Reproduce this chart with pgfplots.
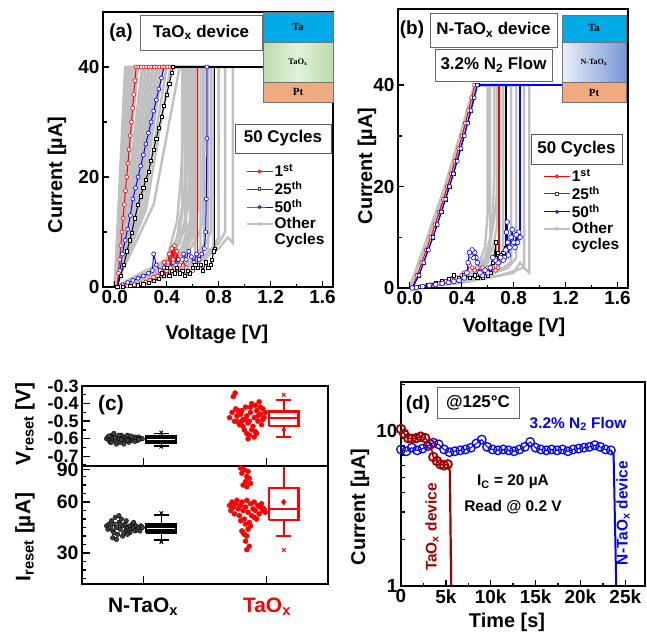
\documentclass[border=0pt]{standalone}
\usepackage{fontspec}
\setmainfont{Liberation Sans}
\newfontfamily\serifb{Liberation Serif}
\usepackage{pgfplots}
\pgfplotsset{compat=1.18}
\definecolor{cred}{RGB}{255,0,0}
\definecolor{cblue}{RGB}{0,0,255}
\definecolor{cgrey}{RGB}{192,192,192}
\definecolor{dred}{RGB}{160,0,0}
\definecolor{tablue}{RGB}{0,170,230}
\definecolor{taoxgreen}{RGB}{185,220,170}
\definecolor{ptorange}{RGB}{240,170,125}
\definecolor{ntaoxblue}{RGB}{120,150,215}
\newcommand\tickf{\fontsize{19}{21}\selectfont\bfseries}
\newcommand\labf{\fontsize{20}{22}\selectfont\bfseries}
\newcommand\boxf{\fontsize{17}{19}\selectfont\bfseries}
\newcommand\legf{\fontsize{15.5}{18}\selectfont\bfseries}
\newcommand\txtf{\fontsize{15.5}{18}\selectfont\bfseries}
\pgfplotsset{
  panel/.style={scale only axis, anchor=south west, axis on top,
    axis line style={line width=2bp}, tick align=inside, tick pos=left,
    tick style={black, line width=1.4bp}, major tick length=6bp, minor tick length=3.5bp,
    tick label style={font=\tickf}, scaled ticks=false},
  ivpanel/.style={panel, xmin=-0.09, xmax=1.68,
    xtick={0,0.4,0.8,1.2,1.6}, xticklabels={0.0,0.4,0.8,1.2,1.6},
    minor xtick={0.2,0.6,1.0,1.4},
    ytick={0,20,40}, yticklabels={0,20,40}, minor ytick={10,30},
    legend style={draw=none, fill=none, font=\legf, inner xsep=0pt, inner ysep=0pt,
      nodes={inner sep=1.2bp}, row sep=1bp, cells={anchor=west}},
    legend image code/.code={\draw[##1, mark repeat=2, mark phase=2] plot coordinates {(0bp,0bp) (13bp,0bp) (26bp,0bp)};}},
  cyc/.style={line width=1bp, mark=*, mark size=2bp, mark options={fill=white, line width=0.6bp, solid}, forget plot},
  grey/.style={cgrey, line width=2.4bp, forget plot},
  boxln/.style={line width=#1, unbounded coords=jump, forget plot},
}
\begin{document}
\begin{tikzpicture}
\path[use as bounding box] (0,0) rectangle (647bp,-633bp);

% ---------------- (a) TaOx I-V
\begin{axis}[ivpanel, at={(103bp,-287bp)}, width=230bp, height=275bp, ymin=0, ymax=50,
  legend style={at={(0.62,0.45)}, anchor=north west}]
\addplot[grey] coordinates {(0,0) (0.08,40) (0.55,40) (0.55,6) (0.5,4) (0.4,3) (0.25,1.5) (0.1,0.5) (0,0)};
\addplot[grey] coordinates {(0,0) (0.10,40) (0.58,40) (0.58,9) (0.52,6) (0.45,5) (0.3,2) (0.15,0.8) (0,0)};
\addplot[grey] coordinates {(0,0) (0.12,40) (0.60,40) (0.60,12) (0.55,8) (0.48,6) (0.35,3) (0.2,1) (0,0)};
\addplot[grey] coordinates {(0,0) (0.07,20) (0.14,40) (0.62,40) (0.62,5) (0.5,4) (0.4,2.5) (0.2,1) (0,0)};
\addplot[grey] coordinates {(0,0) (0.09,19) (0.18,40) (0.64,40) (0.64,14) (0.6,9) (0.5,5) (0.35,3) (0.2,1) (0,0)};
\addplot[grey] coordinates {(0,0) (0.10,17) (0.21,40) (0.56,40) (0.56,25) (0.54,18) (0.5,10) (0.42,5) (0.3,2) (0,0)};
\addplot[grey] coordinates {(0,0) (0.12,17) (0.24,40) (0.66,40) (0.66,7) (0.6,5) (0.5,4) (0.3,1.5) (0,0)};
\addplot[grey] coordinates {(0,0) (0.14,17) (0.27,40) (0.53,40) (0.53,30) (0.51,20) (0.48,12) (0.4,5) (0.25,2) (0,0)};
\addplot[grey] coordinates {(0,0) (0.16,16) (0.30,40) (0.69,40) (0.69,8) (0.65,6) (0.55,4) (0.35,2) (0,0)};
\addplot[grey] coordinates {(0,0) (0.18,15) (0.33,40) (0.72,40) (0.72,6) (0.6,4) (0.4,2) (0,0)};
\addplot[grey] coordinates {(0,0) (0.20,14) (0.37,40) (0.80,40) (0.80,9) (0.75,7) (0.65,5) (0.45,3) (0.25,1) (0,0)};
\addplot[grey] coordinates {(0,0) (0.22,14) (0.40,40) (0.85,40) (0.85,10) (0.8,8) (0.7,6) (0.5,3) (0,0)};
\addplot[grey] coordinates {(0,0) (0.24,14) (0.43,40) (0.91,40) (0.91,8) (0.87,9) (0.8,7) (0.6,4) (0.3,1) (0,0)};
\addplot[grey] coordinates {(0,0) (0.30,15) (0.50,40) (0.58,40) (0.58,35) (0.57,28) (0.55,20) (0.5,10) (0.4,4) (0,0)};
\addplot[grey] coordinates {(0,0) (0.16,40) (0.76,40) (0.76,7) (0.7,5) (0.5,3) (0,0)};
\addplot[grey] coordinates {(0,0) (0.09,40) (0.6,40) (0.6,10) (0.55,7) (0.45,4) (0.3,2) (0,0)};
\addplot[grey] coordinates {(0,0) (0.06,20) (0.13,40) (0.57,40) (0.57,18) (0.53,10) (0.45,6) (0.3,2.5) (0,0)};
\addplot[grey] coordinates {(0,0) (0.08,19) (0.16,40) (0.54,40) (0.54,12) (0.5,8) (0.4,4) (0,0)};
\addplot[grey] coordinates {(0,0) (0.11,18) (0.22,40) (0.61,40) (0.61,20) (0.58,12) (0.5,6) (0.35,3) (0,0)};
\addplot[grey] coordinates {(0,0) (0.13,17) (0.26,40) (0.63,40) (0.63,9) (0.55,6) (0.4,3) (0,0)};
\addplot[grey] coordinates {(0,0) (0.15,16) (0.29,40) (0.59,40) (0.59,22) (0.56,14) (0.5,8) (0.4,4) (0,0)};
\addplot[grey] coordinates {(0,0) (0.17,16) (0.32,40) (0.68,40) (0.68,12) (0.62,8) (0.5,5) (0.3,2) (0,0)};
\addplot[grey] coordinates {(0,0) (0.19,15) (0.35,40) (0.74,40) (0.74,10) (0.68,7) (0.55,4) (0,0)};
\addplot[grey] coordinates {(0,0) (0.05,12) (0.11,40) (0.52,40) (0.52,15) (0.48,9) (0.4,5) (0,0)};
% 50th cycle
\addplot[cblue, line width=2.2bp, forget plot] coordinates {(0.38,40) (1.2,40)};
\addplot[cblue, cyc] coordinates {(0.02,0) (0.04,3) (0.06,6) (0.08,8.5) (0.1,10.5) (0.12,13) (0.14,16) (0.16,18) (0.18,20) (0.2,22) (0.22,24) (0.24,26) (0.26,28) (0.28,30) (0.3,32) (0.32,34) (0.34,36) (0.36,38) (0.38,40)};
\addplot[cblue, cyc] coordinates {(0.71,40) (0.71,27) (0.705,16) (0.7,10) (0.69,7) (0.67,6) (0.65,5) (0.63,6) (0.61,4.5) (0.59,5.5) (0.57,6.5) (0.55,5) (0.53,6) (0.51,4.5) (0.49,5) (0.47,4) (0.45,4.5) (0.43,3.5) (0.41,4) (0.38,3.5) (0.35,3) (0.32,4) (0.3,6) (0.29,3) (0.26,2.5) (0.22,2) (0.18,1.6) (0.14,1.2) (0.1,0.8) (0.06,0.4) (0.02,0)};
% 1st cycle
\addplot[cred, line width=2.4bp, forget plot] coordinates {(0.165,40) (0.64,40)};
\addplot[cred, cyc] coordinates {(0.02,0) (0.029,2.5) (0.038,5) (0.047,7.5) (0.056,10) (0.065,12.5) (0.074,15) (0.083,17.5) (0.093,20) (0.102,22.5) (0.111,25) (0.120,27.5) (0.129,30) (0.138,32.5) (0.147,35) (0.156,37.5) (0.165,40) (0.185,40) (0.205,40) (0.225,40) (0.245,40) (0.265,40) (0.285,40) (0.305,40) (0.325,40) (0.345,40) (0.365,40) (0.385,40) (0.405,40) (0.425,40) (0.445,40)};
\addplot[cred, line width=1.2bp, forget plot] coordinates {(0.64,40) (0.64,4)};
\addplot[cred, cyc] coordinates {(0.64,4) (0.62,3.5) (0.6,3) (0.57,2.5) (0.55,3.5) (0.52,5) (0.5,4) (0.48,6.5) (0.47,4) (0.46,7.5) (0.45,5) (0.44,7) (0.43,3.5) (0.42,6) (0.41,4.5) (0.4,3) (0.38,4.5) (0.37,2.5) (0.35,3) (0.33,2) (0.3,1.8) (0.27,1.2) (0.24,0.9) (0.2,0.6) (0.15,0.4) (0.1,0.2) (0.05,0.1) (0.02,0)};
% 25th cycle
\addplot[black, line width=2.2bp, forget plot] coordinates {(0.45,40) (1.2,40)};
\addplot[black, line width=1.2bp, forget plot] coordinates {(0.77,40) (0.77,7)};
\addplot[black, cyc, mark=square*, mark size=1.6bp] coordinates {(0.02,0) (0.045,2) (0.07,4) (0.095,6.5) (0.115,8.5) (0.13,9.8) (0.155,12.5) (0.18,15) (0.2,16.5) (0.22,18) (0.24,19.5) (0.26,21) (0.28,23) (0.3,25) (0.32,27) (0.34,29) (0.36,31) (0.38,33) (0.4,35) (0.42,37) (0.44,39) (0.45,40)};
\addplot[black, cyc, mark=square*, mark size=1.6bp] coordinates {(0.77,7) (0.76,6.5) (0.75,5) (0.74,4) (0.72,3.5) (0.7,4.5) (0.68,3) (0.66,4) (0.64,3.5) (0.62,4) (0.6,3.5) (0.58,2.5) (0.56,3) (0.54,2) (0.52,3) (0.5,2.5) (0.48,3.5) (0.46,2.5) (0.44,3) (0.42,2) (0.4,3.5) (0.38,2) (0.36,2.5) (0.34,1.5) (0.3,1.2) (0.26,0.8) (0.22,0.5) (0.18,0.3) (0.12,0.2) (0.06,0.1) (0.02,0)};
\addlegendimage{cred, line width=1bp, mark=*, mark size=1.4bp, mark options={fill=white}}
\addlegendentry{1\textsuperscript{st}}
\addlegendimage{black!75, line width=1bp, mark=square*, mark size=1.3bp, mark options={fill=white}}
\addlegendentry{25\textsuperscript{th}}
\addlegendimage{cblue, line width=1bp, mark=*, mark size=1.4bp, mark options={fill=white}}
\addlegendentry{50\textsuperscript{th}}
\addlegendimage{cgrey, line width=1.6bp, mark=x, mark size=2bp}
\addlegendentry{Other}
\addlegendimage{empty legend}
\addlegendentry{Cycles}
\end{axis}

% ---------------- (b) N-TaOx I-V
\begin{axis}[ivpanel, at={(398bp,-288bp)}, width=230bp, height=279bp, ymin=0, ymax=55,
  legend style={at={(0.63,0.43)}, anchor=north west}]
\addplot[grey] coordinates {(0,0) (0.27,20) (0.5,40) (0.62,40) (0.62,6) (0.55,4) (0.45,2) (0.3,1) (0,0)};
\addplot[grey] coordinates {(0,0) (0.28,20) (0.51,40) (0.65,40) (0.65,22) (0.64,15) (0.62,10) (0.58,6) (0.5,3) (0.3,1) (0,0)};
\addplot[grey] coordinates {(0,0) (0.29,20) (0.5,40) (0.67,40) (0.67,12) (0.64,8) (0.6,5) (0.5,2.5) (0,0)};
\addplot[grey] coordinates {(0,0) (0.3,20) (0.52,40) (0.72,40) (0.72,7) (0.68,5) (0.6,4) (0.45,2) (0,0)};
\addplot[grey] coordinates {(0,0) (0.3,20) (0.52,40) (0.78,40) (0.78,5) (0.72,4) (0.6,3) (0.4,1.5) (0,0)};
\addplot[grey] coordinates {(0,0) (0.29,20) (0.51,40) (0.82,40) (0.82,6) (0.76,4) (0.6,2.5) (0,0)};
\addplot[grey] coordinates {(0,0) (0.3,20) (0.52,40) (0.88,40) (0.88,4) (0.85,5) (0.8,3) (0.6,2) (0.35,1) (0,0)};
\addplot[grey] coordinates {(0,0) (0.28,20) (0.5,40) (0.92,40) (0.92,3) (0.88,4) (0.7,2.5) (0.4,1) (0,0)};
\addplot[grey] coordinates {(0,0) (0.29,20) (0.51,40) (0.6,40) (0.6,15) (0.58,8) (0.52,4) (0.4,2) (0,0)};
\addplot[grey] coordinates {(0,0) (0.29,20) (0.5,40) (0.69,40) (0.69,25) (0.67,18) (0.64,12) (0.6,6) (0.5,2) (0,0)};
% 1st
\addplot[cred, line width=2bp, forget plot] coordinates {(0.5,40) (0.69,40) (0.69,5)};
\addplot[cred, cyc] coordinates {(0.02,0) (0.057,2.5) (0.093,5) (0.128,7.5) (0.163,10) (0.196,12.5) (0.228,15) (0.26,17.5) (0.29,20) (0.32,22.5) (0.348,25) (0.376,27.5) (0.403,30) (0.428,32.5) (0.453,35) (0.477,37.5) (0.5,40)};
\addplot[cred, cyc] coordinates {(0.69,5) (0.68,4) (0.66,3.5) (0.64,4) (0.62,3) (0.6,4) (0.58,3.5) (0.56,4) (0.54,3) (0.52,4) (0.5,3.5) (0.48,4) (0.46,4.5) (0.44,3) (0.42,3) (0.4,2.5) (0.36,2) (0.32,1.6) (0.28,1.3) (0.22,0.9) (0.16,0.6) (0.1,0.3) (0.04,0.1) (0.02,0)};
% 25th
\addplot[black, line width=1.6bp, forget plot] coordinates {(0.52,40) (0.74,40) (0.74,8)};
\addplot[black, cyc, mark=square*, mark size=1.6bp] coordinates {(0.02,0) (0.07,2.5) (0.106,5) (0.142,7.5) (0.178,10) (0.211,12.5) (0.243,15) (0.275,17.5) (0.305,20) (0.335,22.5) (0.364,25) (0.392,27.5) (0.419,30) (0.445,32.5) (0.47,35) (0.495,37.5) (0.52,40)};
\addplot[black, cyc, mark=square*, mark size=1.6bp] coordinates {(0.74,8) (0.72,7) (0.7,6.5) (0.68,7) (0.66,6) (0.665,9) (0.64,5) (0.62,3) (0.6,2.5) (0.58,3) (0.56,2) (0.54,2.5) (0.52,2) (0.5,2.5) (0.46,2) (0.42,2.5) (0.38,2) (0.34,2.5) (0.3,1.8) (0.25,1.4) (0.2,1) (0.14,0.6) (0.08,0.3) (0.02,0)};
% 50th
\addplot[cblue, line width=2.6bp, forget plot] coordinates {(0.52,40) (1.2,40)};
\addplot[cblue, line width=1.4bp, forget plot] coordinates {(0.85,40) (0.85,10)};
\addplot[cblue, cyc] coordinates {(0.02,0) (0.072,2.5) (0.108,5) (0.144,7.5) (0.18,10) (0.213,12.5) (0.245,15) (0.277,17.5) (0.307,20) (0.337,22.5) (0.366,25) (0.394,27.5) (0.421,30) (0.447,32.5) (0.472,35) (0.497,37.5) (0.52,40)};
\addplot[cblue, cyc, mark size=2.4bp] coordinates {(0.85,10) (0.84,11) (0.83,9) (0.82,10.5) (0.81,8) (0.8,9) (0.79,11.5) (0.78,10) (0.77,8) (0.76,6.5) (0.755,9) (0.75,13) (0.745,11) (0.74,7.5) (0.73,6) (0.72,5.5) (0.7,6) (0.68,5) (0.66,5.5) (0.64,6) (0.62,4) (0.6,3) (0.58,3.5) (0.56,2.5) (0.54,3) (0.52,5) (0.51,6) (0.5,7) (0.49,6) (0.48,7.5) (0.47,6.5) (0.46,7) (0.45,5) (0.44,3) (0.42,2) (0.38,1.5) (0.34,1.3) (0.3,1.1) (0.25,0.9) (0.2,0.7) (0.15,0.5) (0.1,0.3) (0.05,0.1) (0.02,0)};
\addlegendimage{cred, line width=1bp, mark=*, mark size=1.4bp, mark options={fill=white}}
\addlegendentry{1\textsuperscript{st}}
\addlegendimage{black!75, line width=1bp, mark=square*, mark size=1.3bp, mark options={fill=white}}
\addlegendentry{25\textsuperscript{th}}
\addlegendimage{cblue, line width=1bp, mark=*, mark size=1.4bp, mark options={fill=white}}
\addlegendentry{50\textsuperscript{th}}
\addlegendimage{cgrey, line width=1.6bp, mark=x, mark size=2bp}
\addlegendentry{Other}
\addlegendimage{empty legend}
\addlegendentry{cycles}
\end{axis}

% ---------------- (c) top: V_reset
\begin{axis}[panel, at={(82bp,-466bp)}, width=246bp, height=80bp, xmin=0.5, xmax=2.5, ymin=-0.755, ymax=-0.3,
  xtick={1,2}, xticklabels={}, major tick length=8bp,
  ytick={-0.7,-0.6,-0.5,-0.4,-0.3}, yticklabels={-0.7,-0.6,-0.5,-0.4,-0.3},
  minor ytick={-0.75,-0.65,-0.55,-0.45,-0.35}, tick label style={font=\fontsize{18}{19}\selectfont\bfseries}]
\addplot[only marks, mark=*, mark size=2.3bp, black, mark options={fill=black!75}] coordinates {
(0.70,-0.60) (0.71,-0.59) (0.72,-0.61) (0.73,-0.62) (0.74,-0.58) (0.75,-0.60) (0.76,-0.57) (0.77,-0.61) (0.78,-0.63) (0.79,-0.59)
(0.80,-0.60) (0.81,-0.62) (0.82,-0.58) (0.83,-0.60) (0.84,-0.61) (0.85,-0.59) (0.86,-0.60) (0.87,-0.58) (0.88,-0.62) (0.89,-0.60)
(0.90,-0.59) (0.91,-0.61) (0.92,-0.60) (0.93,-0.59) (0.94,-0.60) (0.95,-0.61) (0.96,-0.59) (0.97,-0.60) (0.98,-0.60) (0.99,-0.60)
(0.74,-0.62) (0.77,-0.595) (0.80,-0.58) (0.84,-0.63) (0.87,-0.61) (0.90,-0.585) (0.93,-0.615) (0.96,-0.605) (0.72,-0.585) (0.82,-0.605)};
\addplot[only marks, mark=*, mark size=2.5bp, cred] coordinates {
(1.70,-0.48) (1.72,-0.45) (1.74,-0.50) (1.75,-0.43) (1.76,-0.47) (1.78,-0.52) (1.79,-0.46) (1.80,-0.44) (1.81,-0.49) (1.82,-0.55)
(1.83,-0.42) (1.84,-0.47) (1.85,-0.51) (1.86,-0.58) (1.87,-0.45) (1.88,-0.40) (1.89,-0.53) (1.90,-0.48) (1.91,-0.56) (1.92,-0.44)
(1.93,-0.50) (1.94,-0.39) (1.95,-0.46) (1.96,-0.52) (1.97,-0.43) (1.98,-0.48) (1.99,-0.45) (1.73,-0.36) (1.745,-0.34) (1.77,-0.44)
(1.81,-0.53) (1.84,-0.57) (1.86,-0.50) (1.88,-0.55) (1.90,-0.59) (1.83,-0.49) (1.87,-0.42) (1.91,-0.41) (1.93,-0.47) (1.95,-0.42)
(1.85,-0.60) (1.80,-0.50) (1.76,-0.50) (1.92,-0.57) (1.97,-0.49)};
% N-TaOx box
\addplot[black, boxln=1.6bp] coordinates {(1.145,-0.585) (1.145,-0.57) (nan,nan) (1.085,-0.57) (1.205,-0.57) (nan,nan) (1.145,-0.628) (1.145,-0.64) (nan,nan) (1.085,-0.64) (1.205,-0.64)};
\addplot[black, fill=black, boxln=1.4bp] coordinates {(1.02,-0.628) (1.27,-0.628) (1.27,-0.585) (1.02,-0.585) (1.02,-0.628)};
\addplot[white, boxln=0.8bp] coordinates {(1.03,-0.606) (1.26,-0.606)};
\addplot[only marks, mark=x, mark size=2.5bp, black, line width=1bp] coordinates {(1.145,-0.565) (1.145,-0.645)};
% TaOx box
\addplot[cred, boxln=2.2bp] coordinates {(2.14,-0.445) (2.14,-0.38) (nan,nan) (2.08,-0.38) (2.20,-0.38) (nan,nan) (2.14,-0.528) (2.14,-0.59) (nan,nan) (2.08,-0.59) (2.20,-0.59)};
\addplot[cred, fill=white, boxln=2.2bp] coordinates {(2.02,-0.528) (2.26,-0.528) (2.26,-0.445) (2.02,-0.445) (2.02,-0.528)};
\addplot[cred, boxln=2.2bp] coordinates {(2.02,-0.483) (2.26,-0.483)};
\addplot[only marks, mark=x, mark size=2.5bp, cred, line width=1bp] coordinates {(2.14,-0.35)};
\addplot[only marks, mark=diamond*, mark size=2.5bp, cred] coordinates {(2.14,-0.55)};
\end{axis}

% ---------------- (c) bottom: I_reset
\begin{axis}[panel, at={(82bp,-584bp)}, width=246bp, height=118bp, xmin=0.5, xmax=2.5, ymin=11.8, ymax=81.2,
  xtick={1,2}, xticklabels={}, major tick length=8bp,
  ytick={30,60,79}, yticklabels={30,60,90}, minor ytick={15,20,25,35,40,45,50,55,65,70,75},
  tick label style={font=\fontsize{19.5}{21}\selectfont\bfseries}]
\addplot[only marks, mark=*, mark size=2.3bp, black, mark options={fill=black!75}] coordinates {
(0.70,46) (0.71,44) (0.72,47) (0.73,45) (0.74,49) (0.75,43) (0.76,47) (0.77,51) (0.78,45) (0.79,41)
(0.80,48) (0.81,44) (0.82,50) (0.83,46) (0.84,42) (0.85,47) (0.86,44) (0.87,45) (0.88,43) (0.89,46)
(0.90,44) (0.91,47) (0.92,45) (0.93,43) (0.94,46) (0.95,44) (0.96,45) (0.97,43) (0.98,46) (0.99,45)
(0.75,39) (0.78,38) (0.80,52) (0.83,40) (0.86,49) (0.89,42) (0.92,48) (0.76,42) (0.81,47) (0.87,41)};
\addplot[only marks, mark=*, mark size=2.5bp, cred] coordinates {
(1.79,80) (1.80,77) (1.82,79) (1.84,75) (1.85,78) (1.83,72) (1.86,74) (1.81,70) (1.84,69) (1.87,71)
(1.70,58) (1.71,55) (1.72,60) (1.73,57) (1.74,53) (1.75,59) (1.76,61) (1.77,56) (1.78,52) (1.79,58)
(1.80,60) (1.81,55) (1.82,50) (1.83,57) (1.84,61) (1.85,54) (1.86,48) (1.87,59) (1.88,52) (1.89,56)
(1.90,60) (1.91,55) (1.92,50) (1.93,58) (1.94,53) (1.95,57) (1.96,59) (1.97,55) (1.98,56) (1.99,54)
(1.79,49) (1.83,47) (1.87,46) (1.90,51)
(1.80,43) (1.81,42) (1.82,41) (1.84,40) (1.85,44) (1.83,37) (1.86,34) (1.84,32)};
% N-TaOx box
\addplot[black, boxln=1.6bp] coordinates {(1.145,47) (1.145,52.4) (nan,nan) (1.085,52.4) (1.205,52.4) (nan,nan) (1.145,41.8) (1.145,37.6) (nan,nan) (1.085,37.6) (1.205,37.6)};
\addplot[black, fill=black, boxln=1.4bp] coordinates {(1.02,41.8) (1.27,41.8) (1.27,47) (1.02,47) (1.02,41.8)};
\addplot[white, boxln=0.8bp] coordinates {(1.03,44.5) (1.26,44.5)};
\addplot[only marks, mark=x, mark size=2.5bp, black, line width=1bp] coordinates {(1.145,53.5) (1.145,36.5)};
% TaOx box
\addplot[cred, boxln=2.2bp] coordinates {(2.14,68.2) (2.14,95) (nan,nan) (2.14,49.4) (2.14,40) (nan,nan) (2.08,40) (2.20,40)};
\addplot[cred, fill=white, boxln=2.2bp] coordinates {(2.02,49.4) (2.26,49.4) (2.26,68.2) (2.02,68.2) (2.02,49.4)};
\addplot[cred, boxln=2.2bp] coordinates {(2.02,55.9) (2.26,55.9)};
\addplot[only marks, mark=diamond*, mark size=3bp, cred] coordinates {(2.14,60)};
\addplot[only marks, mark=x, mark size=2.5bp, cred, line width=1bp] coordinates {(2.14,31.8)};
\end{axis}

% ---------------- (d) retention
\begin{axis}[panel, at={(401bp,-586bp)}, width=244bp, height=204bp, xmin=0, xmax=27200,
  ymode=log, ymin=1, ymax=20.7,
  xtick={0,5000,10000,15000,20000,25000}, xticklabels={0,5k,10k,15k,20k,25k},
  minor xtick={2500,7500,12500,17500,22500},
  ytick={1,10}, yticklabels={1,10}, minor ytick={2,3,4,5,6,7,8,9,20}]
\addplot[cblue, line width=1bp, mark=o, mark size=4.3bp, mark options={line width=1.3bp}] coordinates {
(0,7.6) (600,7.4) (1200,7.8) (1800,7.5) (2400,7.7) (3000,8.0) (3600,8.4) (4200,8.2) (4800,7.6) (5400,7.3)
(6000,7.4) (6600,7.5) (7200,7.6) (7800,7.8) (8400,8.3) (9000,8.8) (9600,7.9) (10200,7.6) (10800,7.5) (11400,7.6)
(12000,7.5) (12600,7.4) (13200,7.6) (13800,7.9) (14400,8.5) (15000,7.8) (15600,7.6) (16200,7.5) (16800,7.6) (17400,7.5)
(18000,7.6) (18600,7.4) (19200,7.6) (19800,7.7) (20400,7.8) (21000,7.9) (21600,8.1) (22200,7.9) (22800,7.6) (23400,7.5)};
\addplot[cblue, line width=2bp] coordinates {(23400,7.5) (23700,7.0) (24100,0.5)};
\addplot[dred, line width=1.5bp, mark=o, mark size=4.3bp, mark options={line width=1.8bp}] coordinates {
(0,10.3) (350,9.6) (800,9.0) (1200,8.9) (1700,9.0) (2200,9.2) (2700,9.0) (3300,8.2) (3600,6.8) (4000,6.4) (4400,6.1) (4800,6.0) (5200,6.1)};
\addplot[dred, line width=2.2bp] coordinates {(5200,6.1) (5450,5.5) (5650,0.5)};
\end{axis}

% ---------------- decorations (a)
\node[font=\fontsize{19}{21}\selectfont\bfseries] at (121bp,-33bp) {(a)};
\node[draw=black!60, line width=0.8bp, fill=white, minimum width=122bp, minimum height=35bp, inner sep=0pt, font=\boxf] at (201bp,-32.5bp) {TaO\textsubscript{x} device};
\fill[tablue] (263bp,-12bp) rectangle (333bp,-42bp);
\shade[left color=taoxgreen, right color=taoxgreen, middle color=taoxgreen!40] (263bp,-42bp) rectangle (333bp,-82bp);
\fill[ptorange] (263bp,-82bp) rectangle (333bp,-102bp);
\draw[black!55, line width=0.6bp] (263bp,-12bp) rectangle (333bp,-102bp) (263bp,-42bp) -- (333bp,-42bp) (263bp,-82bp) -- (333bp,-82bp);
\node[font=\serifb\bfseries\fontsize{11}{12}\selectfont] at (298bp,-27bp) {Ta};
\node[font=\serifb\bfseries\fontsize{8.5}{10}\selectfont] at (298bp,-62bp) {TaO\textsubscript{x}};
\node[font=\serifb\bfseries\fontsize{11}{12}\selectfont] at (298bp,-92bp) {Pt};
\node[draw=black!65, line width=0.8bp, fill=white, minimum width=96bp, minimum height=29bp, inner sep=0pt, font=\boxf] at (283bp,-138.5bp) {50 Cycles};
\node[rotate=90, font=\labf] at (57bp,-175bp) {Current [µA]};
\node[font=\labf] at (217bp,-334bp) {Voltage [V]};

% ---------------- decorations (b)
\node[font=\fontsize{19}{21}\selectfont\bfseries] at (412bp,-30bp) {(b)};
\node[draw=black!60, line width=0.8bp, fill=white, minimum width=127bp, minimum height=34bp, inner sep=0pt, font=\boxf] at (493.5bp,-30bp) {N-TaO\textsubscript{x} device};
\node[draw=black!60, line width=0.8bp, fill=white, minimum width=117bp, minimum height=32bp, inner sep=0pt, font=\boxf] at (493.5bp,-65bp) {3.2\% N\textsubscript{2} Flow};
\fill[tablue] (562bp,-15bp) rectangle (626bp,-42bp);
\shade[left color=ntaoxblue!15, right color=ntaoxblue] (562bp,-42bp) rectangle (626bp,-82bp);
\fill[ptorange] (562bp,-82bp) rectangle (626bp,-102bp);
\draw[black!55, line width=0.6bp] (562bp,-15bp) rectangle (626bp,-102bp) (562bp,-42bp) -- (626bp,-42bp) (562bp,-82bp) -- (626bp,-82bp);
\node[font=\serifb\bfseries\fontsize{11}{12}\selectfont] at (594bp,-28bp) {Ta};
\node[font=\serifb\bfseries\fontsize{8}{10}\selectfont] at (594bp,-62bp) {N-TaO\textsubscript{x}};
\node[font=\serifb\bfseries\fontsize{11}{12}\selectfont] at (594bp,-93bp) {Pt};
\node[draw=black!65, line width=0.8bp, fill=white, minimum width=91bp, minimum height=30bp, inner sep=0pt, font=\boxf] at (576.5bp,-149bp) {50 Cycles};
\node[rotate=90, font=\labf] at (367bp,-166bp) {Current [µA]};
\node[font=\labf] at (514bp,-327bp) {Voltage [V]};

% ---------------- decorations (c)
\node[font=\fontsize{21}{23}\selectfont\bfseries] at (111bp,-405bp) {(c)};
\node[rotate=90, font=\fontsize{21}{23}\selectfont\bfseries] at (25bp,-424bp) {V\textsubscript{reset} [V]};
\node[rotate=90, font=\fontsize{21}{23}\selectfont\bfseries] at (25bp,-537bp) {I\textsubscript{reset} [µA]};
\node[font=\fontsize{21}{23}\selectfont\bfseries] at (143bp,-607bp) {N-TaO\textsubscript{x}};
\node[font=\fontsize{21}{23}\selectfont\bfseries, text=cred] at (267bp,-607bp) {TaO\textsubscript{x}};

% ---------------- decorations (d)
\node[font=\fontsize{19}{21}\selectfont\bfseries] at (418bp,-405bp) {(d)};
\node[draw=black!60, line width=0.8bp, fill=white, minimum width=82bp, minimum height=31bp, inner sep=0pt, font=\boxf] at (478bp,-402.5bp) {@125°C};
\node[font=\txtf, text=cblue] at (578bp,-424bp) {3.2\% N\textsubscript{2} Flow};
\node[font=\txtf] at (513bp,-482bp) {I\textsubscript{C} = 20 µA};
\node[font=\txtf] at (513bp,-507bp) {Read @ 0.2 V};
\node[rotate=90, font=\txtf, text=dred] at (432bp,-527bp) {TaO\textsubscript{x} device};
\node[rotate=90, font=\txtf, text=cblue] at (623bp,-513bp) {N-TaO\textsubscript{x} device};
\node[rotate=90, font=\labf] at (360bp,-507bp) {Current [µA]};
\node[font=\labf] at (507bp,-622bp) {Time [s]};
\end{tikzpicture}
\end{document}
